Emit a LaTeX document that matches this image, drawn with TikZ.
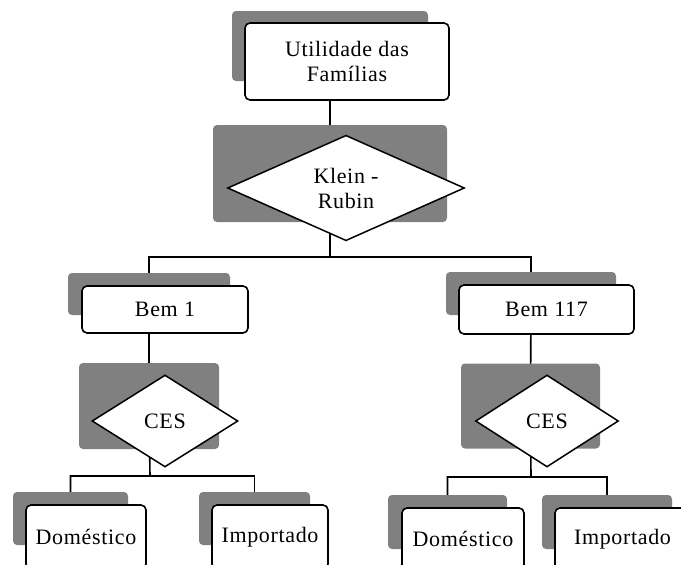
\documentclass[tikz,border=0pt]{standalone}
\usepackage{fontspec}
\setmainfont{Liberation Serif}[LetterSpace=3]
\usetikzlibrary{shapes.geometric}
\definecolor{shadowgray}{RGB}{128,128,128}
\tikzset{
  shadowbox/.style={fill=shadowgray, rounded corners=4pt, inner sep=0pt},
  whitebox/.style={draw=black, line width=1.6pt, fill=white, rounded corners=5pt, inner sep=0pt, align=center, font=\fontsize{22}{25}\selectfont},
  choice/.style={diamond, draw=black, line width=1.5pt, fill=white, inner sep=0pt, align=center, font=\fontsize{22}{25}\selectfont},
  link/.style={draw=black, line width=1.6pt}
}
\begin{document}
\begin{tikzpicture}[x=1pt, y=-1pt]
\useasboundingbox (0,0) rectangle (681,565);
\coordinate (g0) at (330,46);
\coordinate (gk) at (330,173.5);
\coordinate (gb1) at (149,294);
\coordinate (gb2) at (531,293.5);
\coordinate (gc1) at (149,406);
\coordinate (gc2) at (530.5,406);
\coordinate (gd1) at (70.5,518.5);
\coordinate (gi1) at (254.5,518.5);
\coordinate (gd2) at (447.5,522);
\coordinate (gi2) at (607,522);
\coordinate (s0) at (330,257);
\coordinate (s1) at (150,476);
\coordinate (s2) at (531,477);
% connectors
\draw[link] (g0) -- (gk);
\draw[link] (gk) -- (s0) -| (gb1);
\draw[link] (s0) -| (gb2);
\draw[link] (gb1) -- (gc1);
\draw[link] (gb2) -- (gc2);
\draw[link] (gc1) -- (s1) -| (gd1);
\draw[link] (s1) -| (gi1);
\draw[link] (gc2) -- (s2) -| (gd2);
\draw[link] (s2) -| (gi2);
% gray shadow rectangles
\node[shadowbox, minimum width=196pt, minimum height=70pt] (sh0) at (g0) {};
\node[shadowbox, minimum width=234pt, minimum height=97pt] (shk) at (gk) {};
\node[shadowbox, minimum width=162pt, minimum height=42pt] (shb1) at (gb1) {};
\node[shadowbox, minimum width=170pt, minimum height=43pt] (shb2) at (gb2) {};
\node[shadowbox, minimum width=140pt, minimum height=86pt] (shc1) at (gc1) {};
\node[shadowbox, minimum width=139pt, minimum height=85pt] (shc2) at (gc2) {};
\node[shadowbox, minimum width=115pt, minimum height=53pt] (shd1) at (gd1) {};
\node[shadowbox, minimum width=111pt, minimum height=53pt] (shi1) at (gi1) {};
\node[shadowbox, minimum width=119pt, minimum height=54pt] (shd2) at (gd2) {};
\node[shadowbox, minimum width=130pt, minimum height=54pt] (shi2) at (gi2) {};
% white boxes and diamonds
\node[whitebox, minimum width=204pt, minimum height=77pt] (top) at (347,61.5) {Utilidade das\\Famílias};
\node[choice, minimum width=237pt, minimum height=101pt] (kr) at (346,188) {Klein -\\Rubin};
\node[whitebox, minimum width=166pt, minimum height=47pt] (b1) at (165,309.5) {Bem 1};
\node[whitebox, minimum width=175pt, minimum height=49pt] (b2) at (546.5,309.5) {Bem 117};
\node[choice, minimum width=146pt, minimum height=92pt] (c1) at (165,421) {CES};
\node[choice, minimum width=143pt, minimum height=92pt] (c2) at (547,421) {CES};
\node[whitebox, minimum width=120pt, minimum height=64pt] (d1) at (86,537) {Doméstico};
\node[whitebox, minimum width=116pt, minimum height=64pt] (i1) at (270,537) {Importado};
\node[whitebox, minimum width=122pt, minimum height=62pt] (d2) at (463,539) {Doméstico};
\node[whitebox, minimum width=135pt, minimum height=62pt] (i2) at (622.5,539) {Importado};
\end{tikzpicture}
\end{document}
